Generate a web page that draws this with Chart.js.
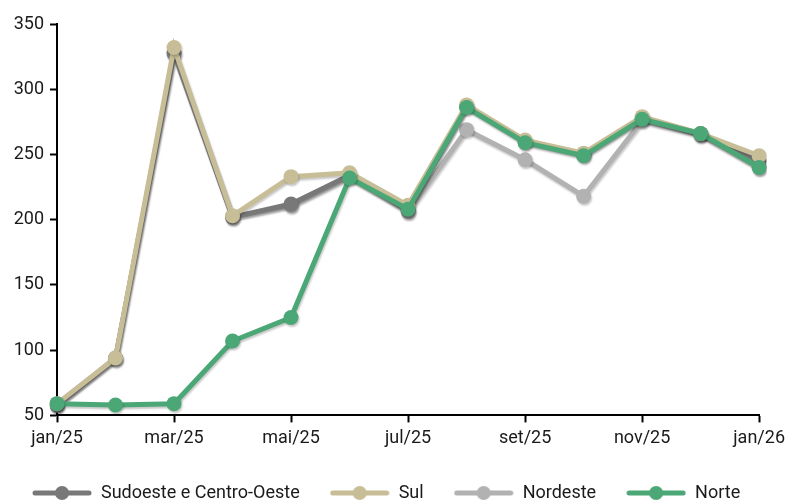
<!DOCTYPE html>
<html>
<head>
<meta charset="utf-8">
<script src="https://cdn.jsdelivr.net/npm/chart.js@4.4.1/dist/chart.umd.min.js"></script>
<style>
  html, body { margin: 0; padding: 0; background: #fff; }
</style>
</head>
<body>
<canvas id="grafico" width="790" height="500"></canvas>
<script>
const meses = ['jan/25', 'fev/25', 'mar/25', 'abr/25', 'mai/25', 'jun/25', 'jul/25',
               'ago/25', 'set/25', 'out/25', 'nov/25', 'dez/25', 'jan/26'];
const sudoeste = [58, 94, 328, 202, 212, 234, 207, 287, 260, 250, 278, 266, 245];
const sul      = [59, 94, 332, 203, 233, 236, 211, 288, 261, 251, 279, 266, 249];
const nordeste = [58, 93, 327, 202, 211, 233, 206, 269, 246, 218, 276, 265, 240];
const norte    = [59, 58, 59, 107, 125, 232, 208, 286, 259, 249, 277, 266, 240];
const yTicks = [50, 100, 150, 200, 250, 300, 350];

const fonte = "Roboto, 'Noto Sans', sans-serif";

// marcador da legenda: linha com bolinha
function marcador(cor) {
    const c = document.createElement('canvas');
    c.width = 60;
    c.height = 16;
    const g = c.getContext('2d');
    g.strokeStyle = cor;
    g.lineWidth = 5;
    g.lineCap = 'round';
    g.beginPath();
    g.moveTo(3, 8);
    g.lineTo(57, 8);
    g.stroke();
    g.fillStyle = cor;
    g.beginPath();
    g.arc(30, 8, 7, 0, Math.PI * 2);
    g.fill();
    return c;
}

const sombra = {
    id: 'sombra',
    beforeDatasetsDraw(chart) {
        const ctx = chart.ctx;
        ctx.save();
        ctx.shadowColor = 'rgba(0,0,0,0.22)';
        ctx.shadowBlur = 2;
        ctx.shadowOffsetX = 1;
        ctx.shadowOffsetY = 2;
    },
    afterDatasetsDraw(chart) {
        chart.ctx.restore();
    }
};

function serie(label, data, cor, ordem) {
    return {
        label: label,
        data: data,
        borderColor: cor,
        backgroundColor: cor,
        pointBackgroundColor: cor,
        pointBorderColor: cor,
        borderWidth: 5,
        pointRadius: 7.5,
        pointHoverRadius: 7.5,
        pointBorderWidth: 0,
        tension: 0,
        order: ordem,
        marcador: marcador(cor)
    };
}

Chart.defaults.font.family = fonte;
Chart.defaults.font.size = 18;
Chart.defaults.color = '#1a1a1a';

const chart = new Chart(document.getElementById('grafico'), {
    type: 'line',
    data: {
        labels: meses,
        datasets: [
            serie('Sudoeste e Centro-Oeste', sudoeste, '#787878', 2),
            serie('Sul', sul, '#C7BE97', 1),
            serie('Nordeste', nordeste, '#B2B2B2', 3),
            serie('Norte', norte, '#4CA777', 0)
        ]
    },
    plugins: [sombra],
    options: {
        responsive: false,
        animation: false,
        layout: {
            padding: { left: 2, right: 4, top: 24, bottom: -12 }
        },
        plugins: {
            tooltip: { enabled: false },
            legend: {
                position: 'bottom',
                align: 'start',
                labels: {
                    usePointStyle: true,
                    pointStyleWidth: 60,
                    padding: 30,
                    sort: (a, b) => a.datasetIndex - b.datasetIndex,
                    generateLabels: (ch) => {
                        const itens = Chart.defaults.plugins.legend.labels.generateLabels(ch);
                        itens.forEach(it => {
                            it.pointStyle = ch.data.datasets[it.datasetIndex].marcador;
                        });
                        return itens;
                    }
                }
            }
        },
        scales: {
            x: {
                offset: false,
                border: { display: true, color: '#000', width: 2 },
                grid: {
                    display: true,
                    drawOnChartArea: false,
                    tickLength: 7,
                    tickWidth: 2,
                    tickColor: (c) => (c.index % 2 === 0 ? '#000' : 'rgba(0,0,0,0)')
                },
                ticks: {
                    autoSkip: false,
                    maxRotation: 0,
                    padding: 5,
                    callback: (v, i) => (i % 2 === 0 ? meses[i] : '')
                }
            },
            y: {
                min: yTicks[0],
                max: yTicks[yTicks.length - 1],
                border: { display: true, color: '#000', width: 2 },
                grid: {
                    display: true,
                    drawOnChartArea: false,
                    tickLength: 7,
                    tickWidth: 2,
                    tickColor: '#000'
                },
                afterBuildTicks: (ax) => {
                    ax.ticks = yTicks.map(v => ({ value: v }));
                },
                afterFit: (ax) => {
                    ax.width = 55;
                },
                ticks: {
                    padding: 6
                }
            }
        }
    }
});
</script>
</body>
</html>
